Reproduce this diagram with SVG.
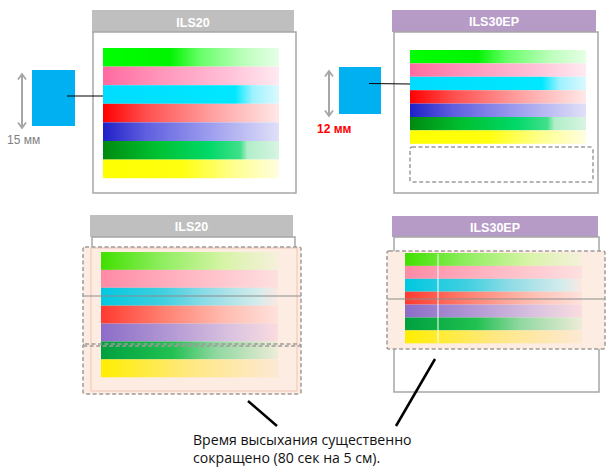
<svg xmlns="http://www.w3.org/2000/svg" width="609" height="473" viewBox="0 0 609 473">
<style>
.hdr-g{fill:#bfbfbf}
.hdr-p{fill:#b79bc7}
.hdr-t{font-family:"Liberation Sans",Arial,sans-serif;font-weight:bold;font-size:12.5px;fill:#fff;text-anchor:middle}
.panel{fill:#fff;stroke:#a6a6a6;stroke-width:1.5}
.dash{fill:none;stroke:#a09a9a;stroke-width:1.5;stroke-dasharray:4 2.5}
.peach{fill:#fdece1}
.mid{stroke:#8c8c8c;stroke-width:1.2}
.conn{stroke:#000;stroke-width:1.2;fill:none}
.ptr{stroke:#000;stroke-width:2.5;fill:none}
.dim{stroke:#a6a6a6;stroke-width:2;fill:none;marker-start:url(#chev);marker-end:url(#chev)}
.sq{fill:#00b0f0}
.lbl{font-family:"Liberation Sans",Arial,sans-serif;font-size:12px}
.cap{font-family:"Open Sans","Liberation Sans",Arial,sans-serif;font-size:14.1px;fill:#111}
</style>
<defs>
<marker id="chev" viewBox="0 0 10 10" refX="8" refY="5" markerWidth="10" markerHeight="10" markerUnits="userSpaceOnUse" orient="auto-start-reverse">
<polyline points="2.5,1 8,5 2.5,9" fill="none" stroke="#a6a6a6" stroke-width="1.8"/>
</marker>
<linearGradient id="t1"><stop offset="0" stop-color="#00ff00"/><stop offset="0.38" stop-color="#00f400"/><stop offset="0.55" stop-color="#66ff66"/><stop offset="0.8" stop-color="#bcffbc"/><stop offset="1" stop-color="#e6ffe6"/></linearGradient>
<linearGradient id="t2"><stop offset="0" stop-color="#ff6aa0"/><stop offset="0.3" stop-color="#ff92b8"/><stop offset="0.7" stop-color="#ffbfd6"/><stop offset="1" stop-color="#ffeaf1"/></linearGradient>
<linearGradient id="t3"><stop offset="0" stop-color="#00dcff"/><stop offset="0.75" stop-color="#00e8ff"/><stop offset="0.85" stop-color="#9ef2ff"/><stop offset="1" stop-color="#dcf8ff"/></linearGradient>
<linearGradient id="t4"><stop offset="0" stop-color="#ff0000"/><stop offset="0.25" stop-color="#ff5050"/><stop offset="0.6" stop-color="#ff9c9c"/><stop offset="1" stop-color="#ffe8e8"/></linearGradient>
<linearGradient id="t5"><stop offset="0" stop-color="#2020c8"/><stop offset="0.25" stop-color="#6060e0"/><stop offset="0.6" stop-color="#9c9cee"/><stop offset="1" stop-color="#e0e0f8"/></linearGradient>
<linearGradient id="t6"><stop offset="0" stop-color="#008a10"/><stop offset="0.3" stop-color="#00c030"/><stop offset="0.6" stop-color="#00d868"/><stop offset="0.78" stop-color="#40e08a"/><stop offset="0.82" stop-color="#b0eec8"/><stop offset="1" stop-color="#d8f4e2"/></linearGradient>
<linearGradient id="t7"><stop offset="0" stop-color="#ffff00"/><stop offset="0.45" stop-color="#ffff10"/><stop offset="0.75" stop-color="#ffff90"/><stop offset="1" stop-color="#fffde0"/></linearGradient>
<linearGradient id="b1"><stop offset="0" stop-color="#40e000"/><stop offset="0.35" stop-color="#90ee60"/><stop offset="0.7" stop-color="#d8f4a8"/><stop offset="1" stop-color="#f6f0dc"/></linearGradient>
<linearGradient id="b2"><stop offset="0" stop-color="#ff8aa6"/><stop offset="0.5" stop-color="#ffb8c4"/><stop offset="1" stop-color="#fde0e0"/></linearGradient>
<linearGradient id="b3"><stop offset="0" stop-color="#00c8e0"/><stop offset="0.35" stop-color="#40d0e0"/><stop offset="0.6" stop-color="#90dce6"/><stop offset="0.9" stop-color="#d8ecec"/><stop offset="1" stop-color="#fbe8e2"/></linearGradient>
<linearGradient id="b4"><stop offset="0" stop-color="#ff3a30"/><stop offset="0.35" stop-color="#ff8070"/><stop offset="0.7" stop-color="#ffbcb0"/><stop offset="1" stop-color="#fde2dc"/></linearGradient>
<linearGradient id="b5"><stop offset="0" stop-color="#8c6cc8"/><stop offset="0.4" stop-color="#b49ad4"/><stop offset="0.75" stop-color="#dcc4e0"/><stop offset="1" stop-color="#fadce0"/></linearGradient>
<linearGradient id="b6"><stop offset="0" stop-color="#00a040"/><stop offset="0.4" stop-color="#20c050"/><stop offset="0.65" stop-color="#90d8a0"/><stop offset="1" stop-color="#eeecd8"/></linearGradient>
<linearGradient id="b7"><stop offset="0" stop-color="#ffee00"/><stop offset="0.5" stop-color="#ffe880"/><stop offset="1" stop-color="#fde8d4"/></linearGradient>
</defs>

<g id="top-left-panel">
<rect class="hdr-g" x="92" y="10" width="202" height="23"/>
<text class="hdr-t" x="193" y="26.5">ILS20</text>
<rect class="panel" x="93" y="32" width="203" height="161"/>
<rect x="103" y="48" width="176" height="18.6" fill="url(#t1)"/>
<rect x="103" y="66.6" width="176" height="18.6" fill="url(#t2)"/>
<rect x="103" y="85.2" width="176" height="18.6" fill="url(#t3)"/>
<rect x="103" y="103.8" width="176" height="18.6" fill="url(#t4)"/>
<rect x="103" y="122.4" width="176" height="18.6" fill="url(#t5)"/>
<rect x="103" y="141" width="176" height="18.6" fill="url(#t6)"/>
<rect x="103" y="159.6" width="176" height="18.6" fill="url(#t7)"/>
</g>

<g id="drop-15mm">
<rect class="sq" x="32" y="70" width="43" height="56"/>
<line class="dim" x1="22" y1="74" x2="22" y2="128"/>
<text class="lbl" x="7" y="144" fill="#7f7f7f">15 мм</text>
</g>

<g id="top-right-panel">
<rect class="hdr-p" x="392" y="10" width="204" height="22"/>
<text class="hdr-t" x="494" y="26">ILS30EP</text>
<rect class="panel" x="394" y="32" width="204" height="161"/>
<rect x="410" y="50" width="176" height="13.4" fill="url(#t1)"/>
<rect x="410" y="63.4" width="176" height="13.4" fill="url(#t2)"/>
<rect x="410" y="76.8" width="176" height="13.4" fill="url(#t3)"/>
<rect x="410" y="90.2" width="176" height="13.4" fill="url(#t4)"/>
<rect x="410" y="103.6" width="176" height="13.4" fill="url(#t5)"/>
<rect x="410" y="117" width="176" height="13.4" fill="url(#t6)"/>
<rect x="410" y="130.4" width="176" height="13.4" fill="url(#t7)"/>
<rect class="dash" x="410" y="147" width="183" height="35" rx="2"/>
</g>

<g id="drop-12mm">
<rect class="sq" x="339" y="67" width="42" height="47"/>
<line class="dim" x1="329" y1="71" x2="329" y2="116"/>
<text class="lbl" x="317" y="133" fill="#ff0000" font-weight="bold">12 мм</text>
</g>

<g id="bottom-left-panel">
<rect class="hdr-g" x="90" y="215" width="203" height="22"/>
<text class="hdr-t" x="191.5" y="231">ILS20</text>
<rect class="panel" x="92" y="237" width="203" height="150"/>
<rect class="peach" x="83" y="247" width="218" height="147"/>
<rect x="91" y="248" width="206" height="143" fill="none" stroke="#f0c4b4" stroke-width="1"/>
<rect x="101" y="252" width="177" height="17.9" fill="url(#b1)"/>
<rect x="101" y="269.9" width="177" height="17.9" fill="url(#b2)"/>
<rect x="101" y="287.8" width="177" height="17.9" fill="url(#b3)"/>
<rect x="101" y="305.7" width="177" height="17.9" fill="url(#b4)"/>
<rect x="101" y="323.6" width="177" height="17.9" fill="url(#b5)"/>
<rect x="101" y="341.5" width="177" height="17.9" fill="url(#b6)"/>
<rect x="101" y="359.4" width="177" height="17.9" fill="url(#b7)"/>
<line class="mid" x1="83" y1="296" x2="301" y2="296"/>
<rect class="dash" x="83" y="247" width="218" height="99" rx="2"/>
<rect class="dash" x="83" y="344" width="218" height="50" rx="2"/>
</g>

<g id="bottom-right-panel">
<rect class="hdr-p" x="392" y="216" width="206" height="21"/>
<text class="hdr-t" x="495" y="231.5">ILS30EP</text>
<rect class="panel" x="394" y="237" width="205" height="155"/>
<rect class="peach" x="387" y="251" width="218" height="98"/>
<rect x="405" y="253" width="177" height="12.9" fill="url(#b1)"/>
<rect x="405" y="265.9" width="177" height="12.9" fill="url(#b2)"/>
<rect x="405" y="278.8" width="177" height="12.9" fill="url(#b3)"/>
<rect x="405" y="291.7" width="177" height="12.9" fill="url(#b4)"/>
<rect x="405" y="304.6" width="177" height="12.9" fill="url(#b5)"/>
<rect x="405" y="317.5" width="177" height="12.9" fill="url(#b6)"/>
<rect x="405" y="330.4" width="177" height="12.9" fill="url(#b7)"/>
<line x1="438" y1="254" x2="438" y2="343" stroke="#fff" stroke-width="1.2" opacity="0.85"/>
<line class="mid" x1="387" y1="299" x2="605" y2="299"/>
<rect class="dash" x="387" y="251" width="218" height="98" rx="2"/>
</g>

<g id="connectors">
<line class="conn" x1="67" y1="96" x2="103" y2="96"/>
<line class="conn" x1="369" y1="83.5" x2="410" y2="84"/>
<line class="ptr" x1="248" y1="401" x2="277" y2="426"/>
<line class="ptr" x1="435" y1="359" x2="396" y2="426"/>
</g>

<g id="caption">
<text class="cap" x="193" y="445">Время высыхания существенно</text>
<text class="cap" x="193" y="463">сокращено (80 сек на 5 см).</text>
</g>
</svg>
